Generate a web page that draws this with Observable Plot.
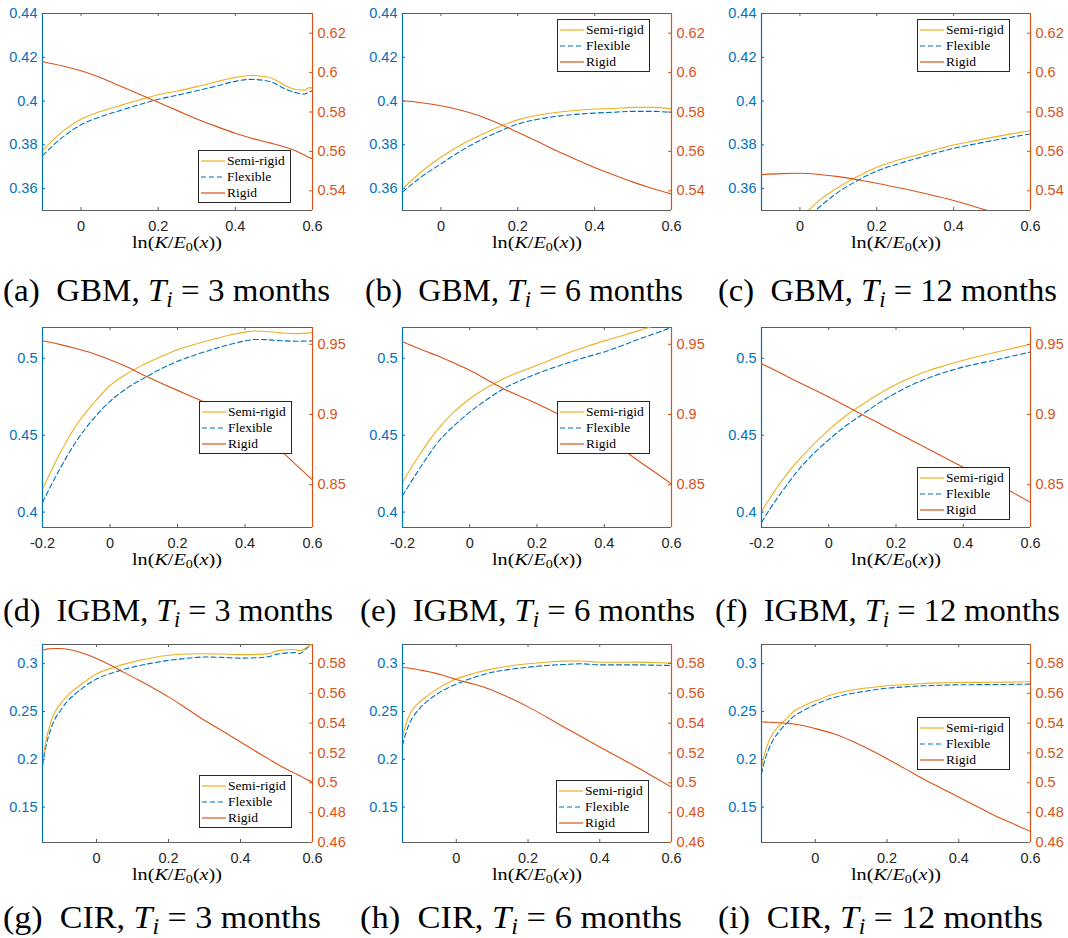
<!DOCTYPE html>
<html><head><meta charset="utf-8">
<script src="https://cdn.jsdelivr.net/npm/d3@7"></script>
<script src="https://cdn.jsdelivr.net/npm/@observablehq/plot@0.6"></script>
<style>
html,body{margin:0;padding:0;background:#fff;}
#root{position:relative;width:1068px;height:938px;overflow:hidden;background:#fff;}
.legend{position:absolute;width:93px;height:53px;box-sizing:border-box;border:1px solid #262626;background:#fff;}
.lrow{position:absolute;left:0;height:16px;width:100%;}
.lrow svg{position:absolute;left:2px;top:6px;}
.lrow span{position:absolute;left:28px;top:0;font:13.5px/16px "Liberation Serif","Times New Roman",serif;color:#000;white-space:nowrap;}
.cap{position:absolute;white-space:nowrap;font-family:"Liberation Serif","Times New Roman",serif;font-size:32px;line-height:32px;color:#000;transform-origin:0 50%;}
.xl{position:absolute;white-space:nowrap;font-family:"Liberation Serif","Times New Roman",serif;font-size:17px;line-height:12px;color:#000;transform-origin:0 50%;}
sub{font-size:70%;vertical-align:-0.25em;line-height:0;}
</style></head>
<body><div id="root"></div>
<script>
// ---------- data ----------
const xA = [-0.1,-0.05,0,0.05,0.1,0.15,0.2,0.25,0.3,0.35,0.4,0.44,0.48,0.5,0.53,0.56,0.58,0.59,0.6];
const semiA = [0.3774,0.3858,0.3918,0.3952,0.3979,0.4005,0.4029,0.4046,0.4066,0.4088,0.4108,0.4117,0.4111,0.4100,0.4070,0.4052,0.4050,0.4060,0.4060];
const flexA = [0.3751,0.3832,0.3892,0.3928,0.3956,0.3983,0.4008,0.4027,0.4047,0.4068,0.4090,0.4099,0.4093,0.4082,0.4055,0.4037,0.4032,0.4040,0.4047];
const rigidA = [0.6055,0.6035,0.6009,0.5975,0.5933,0.5891,0.5849,0.5807,0.5765,0.5727,0.5692,0.5668,0.5648,0.5638,0.5621,0.5600,0.5580,0.5570,0.5562];

const xB = [-0.1,-0.05,0,0.05,0.1,0.15,0.2,0.25,0.3,0.35,0.4,0.45,0.5,0.55,0.6];
const semiB = [0.3599,0.3678,0.3743,0.3798,0.3842,0.3882,0.3914,0.3935,0.3948,0.3957,0.3964,0.3966,0.3971,0.3971,0.3964];
const flexB = [0.3584,0.3655,0.3713,0.3770,0.3819,0.3860,0.3895,0.3916,0.3930,0.3939,0.3945,0.3949,0.3953,0.3953,0.3948];
const rigidB = [0.5857,0.5847,0.5832,0.5810,0.5781,0.5742,0.5697,0.5651,0.5604,0.5560,0.5518,0.5480,0.5444,0.5412,0.5384];

const xC = [-0.1,-0.05,0,0.05,0.1,0.15,0.2,0.25,0.3,0.35,0.4,0.45,0.5,0.55,0.6];
const semiC = [0.333,0.340,0.3465,0.3545,0.3606,0.3655,0.3698,0.3727,0.3751,0.3776,0.3799,0.3817,0.3834,0.3850,0.3865];
const flexC = [0.330,0.337,0.3435,0.3515,0.3584,0.3637,0.3680,0.3710,0.3736,0.3761,0.3784,0.3802,0.3819,0.3835,0.3850];
const rigidC = [0.5482,0.5487,0.5489,0.5483,0.5472,0.5456,0.5438,0.5418,0.5398,0.5375,0.5351,0.5323,0.5292,0.5262,0.5230];

const xD = [-0.2,-0.15,-0.1,-0.05,0,0.05,0.1,0.15,0.2,0.25,0.3,0.35,0.4,0.43,0.45,0.5,0.55,0.6];
const semiD = [0.415,0.4375,0.4565,0.4705,0.4823,0.4900,0.4959,0.5010,0.5056,0.5090,0.5120,0.5148,0.5170,0.5177,0.5176,0.5167,0.5160,0.5167];
const flexD = [0.4063,0.4275,0.4460,0.4605,0.4720,0.4805,0.4870,0.4930,0.4980,0.5020,0.5055,0.5087,0.5113,0.5122,0.5122,0.5115,0.5111,0.5113];
const rigidD = [0.9525,0.9500,0.9470,0.9435,0.9391,0.9340,0.9279,0.9225,0.9172,0.9120,0.9065,0.9000,0.8934,0.8881,0.8845,0.8755,0.8645,0.8534];

const xE = [-0.2,-0.175,-0.15,-0.125,-0.1,-0.05,0,0.05,0.1,0.15,0.2,0.25,0.3,0.35,0.4,0.45,0.5,0.55,0.6];
const semiE = [0.4193,0.4285,0.4370,0.4452,0.4525,0.4645,0.4737,0.4808,0.4867,0.4913,0.4954,0.4998,0.5041,0.5078,0.5113,0.5145,0.5178,0.5212,0.5245];
const flexE = [0.4106,0.4195,0.4280,0.4362,0.4440,0.4555,0.4650,0.4730,0.4802,0.4855,0.4900,0.4940,0.4976,0.5010,0.5041,0.5080,0.5122,0.5160,0.5200];
const rigidE = [0.9518,0.9493,0.9468,0.9445,0.9422,0.9370,0.9315,0.9250,0.9184,0.9130,0.9077,0.9018,0.8958,0.8899,0.8839,0.8760,0.8672,0.8590,0.8505];

const xF = [-0.2,-0.175,-0.15,-0.125,-0.1,-0.05,0,0.05,0.1,0.15,0.2,0.25,0.3,0.35,0.4,0.45,0.5,0.55,0.6];
const semiF = [0.4004,0.4090,0.4172,0.4245,0.4313,0.4430,0.4535,0.4625,0.4700,0.4770,0.4830,0.4880,0.4922,0.4955,0.4987,0.5015,0.5041,0.5066,0.5091];
const flexF = [0.3933,0.4020,0.4100,0.4175,0.4248,0.4370,0.4470,0.4560,0.4635,0.4710,0.4775,0.4830,0.4875,0.4912,0.4943,0.4968,0.4991,0.5016,0.5041];
const rigidF = [0.9363,0.9333,0.9303,0.9273,0.9243,0.9184,0.9124,0.9062,0.8999,0.8937,0.8874,0.8812,0.8749,0.8687,0.8624,0.8565,0.8505,0.8440,0.8374];

const xG = [-0.15,-0.145,-0.14,-0.13,-0.12,-0.1,-0.08,-0.06,-0.04,-0.02,0,0.05,0.1,0.15,0.2,0.25,0.3,0.35,0.4,0.45,0.48,0.5,0.55,0.565,0.58,0.6];
const semiG = [0.1971,0.2090,0.2200,0.2350,0.2460,0.2580,0.2668,0.2735,0.2790,0.2845,0.2892,0.2963,0.3016,0.3057,0.3087,0.3100,0.3104,0.3100,0.3094,0.3097,0.3105,0.3133,0.3147,0.3135,0.3160,0.3210];
const flexG = [0.1936,0.2040,0.2140,0.2280,0.2385,0.2510,0.2610,0.2680,0.2740,0.2795,0.2839,0.2910,0.2963,0.3003,0.3034,0.3055,0.3069,0.3065,0.3058,0.3062,0.3075,0.3097,0.3115,0.3104,0.3150,0.3204];
const rigidG = [0.5889,0.5892,0.5895,0.5898,0.5900,0.5900,0.5895,0.5885,0.5870,0.5853,0.5833,0.5775,0.5710,0.5645,0.5576,0.5498,0.5419,0.5347,0.5274,0.5200,0.5157,0.5128,0.5065,0.5047,0.5028,0.5005];

const xH = [-0.15,-0.14,-0.13,-0.12,-0.1,-0.08,-0.06,-0.04,-0.02,0,0.05,0.1,0.15,0.2,0.25,0.3,0.35,0.4,0.45,0.5,0.55,0.6];
const semiH = [0.2237,0.2370,0.2470,0.2530,0.2607,0.2665,0.2718,0.2765,0.2805,0.2839,0.2899,0.2945,0.2975,0.2998,0.3015,0.3026,0.3027,0.3014,0.3015,0.3016,0.3012,0.3005];
const flexH = [0.2148,0.2280,0.2380,0.2445,0.2540,0.2610,0.2665,0.2715,0.2752,0.2786,0.2857,0.2910,0.2940,0.2963,0.2980,0.2991,0.2998,0.2987,0.2987,0.2987,0.2984,0.2980];
const rigidH = [0.5773,0.5771,0.5768,0.5764,0.5755,0.5746,0.5735,0.5722,0.5708,0.5692,0.5660,0.5620,0.5568,0.5509,0.5443,0.5374,0.5307,0.5240,0.5175,0.5110,0.5040,0.4971];

const xI = [-0.15,-0.14,-0.13,-0.12,-0.1,-0.08,-0.06,-0.04,-0.02,0,0.05,0.1,0.15,0.2,0.25,0.3,0.35,0.4,0.45,0.5,0.55,0.6];
const semiI = [0.1918,0.2075,0.2185,0.2260,0.2355,0.2425,0.2502,0.2545,0.2580,0.2609,0.2679,0.2722,0.2748,0.2768,0.2782,0.2793,0.2799,0.2803,0.2804,0.2805,0.2807,0.2810];
const flexI = [0.1847,0.2000,0.2105,0.2185,0.2295,0.2375,0.2449,0.2495,0.2537,0.2573,0.2644,0.2687,0.2718,0.2743,0.2757,0.2768,0.2774,0.2779,0.2780,0.2781,0.2783,0.2786];
const rigidI = [0.5408,0.5407,0.5406,0.5405,0.5403,0.5399,0.5394,0.5386,0.5376,0.5363,0.5330,0.5282,0.5225,0.5162,0.5095,0.5027,0.4965,0.4904,0.4843,0.4781,0.4727,0.4674];

// axes per row (domains and tick labels)
const xDomainGBM = [-0.1, 0.6], xTicksGBM = [0, 0.2, 0.4, 0.6];
const leftDomainGBM = [0.35, 0.44], leftTicksGBM = [0.36, 0.38, 0.40, 0.42, 0.44];
const rightDomainGBM = [0.53, 0.63], rightTicksGBM = [0.54, 0.56, 0.58, 0.60, 0.62];

const xDomainIGBM = [-0.2, 0.6], xTicksIGBM = [-0.2, 0, 0.2, 0.4, 0.6];
const leftDomainIGBM = [0.39, 0.52], leftTicksIGBM = [0.40, 0.45, 0.50];
const rightDomainIGBM = [0.8195, 0.962], rightTicksIGBM = [0.85, 0.90, 0.95];

const xDomainCIR = [-0.15, 0.6], xTicksCIR = [0, 0.2, 0.4, 0.6];
const leftDomainCIR = [0.113, 0.32], leftTicksCIR = [0.15, 0.20, 0.25, 0.30];
const rightDomainCIR = [0.46, 0.5927], rightTicksCIR = [0.46, 0.48, 0.50, 0.52, 0.54, 0.56, 0.58];

const seriesNames = ["Semi-rigid", "Flexible", "Rigid"];
const letters = ["a","b","c","d","e","f","g","h","i"];
const models = ["GBM","GBM","GBM","IGBM","IGBM","IGBM","CIR","CIR","CIR"];
const months = ["3","6","12","3","6","12","3","6","12"];

// ---------- layout ----------
const blue = "#0072BD", orange = "#D95319", yellow = "#EDB120", frameGray = "#5e5e5e";
const cols = [{L:42,R:312},{L:402,R:671},{L:761,R:1030}];
const rows = [{T:13,B:210,cap:290},{T:327,B:527,cap:610},{T:644,B:842,cap:917}];
const rowAxes = [
  {xd:xDomainGBM, xt:xTicksGBM, yl:leftDomainGBM, ylt:leftTicksGBM, yr:rightDomainGBM, yrt:rightTicksGBM},
  {xd:xDomainIGBM, xt:xTicksIGBM, yl:leftDomainIGBM, ylt:leftTicksIGBM, yr:rightDomainIGBM, yrt:rightTicksIGBM},
  {xd:xDomainCIR, xt:xTicksCIR, yl:leftDomainCIR, ylt:leftTicksCIR, yr:rightDomainCIR, yrt:rightTicksCIR}
];
const panelSeries = [
  [xA,semiA,flexA,rigidA],[xB,semiB,flexB,rigidB],[xC,semiC,flexC,rigidC],
  [xD,semiD,flexD,rigidD],[xE,semiE,flexE,rigidE],[xF,semiF,flexF,rigidF],
  [xG,semiG,flexG,rigidG],[xH,semiH,flexH,rigidH],[xI,semiI,flexI,rigidI]
];
const legendPos = [[198,150],[557,19],[917,19],[199,401],[557,401],[917,467],[199,775],[556,780],[917,717]];
const capBox = [[3,327],[365,318],[718,339],[3,330],[360,335],[715,345],[3,318],[360,322],[718,325]];

const root = document.getElementById("root");
const fmt = d => String(+d.toFixed(3));

function fitWidth(el, target){
  const w = el.getBoundingClientRect().width;
  if (w > 0) el.style.transform = `scaleX(${target / w})`;
}

for (let k = 0; k < 9; k++){
  const r = Math.floor(k / 3), c = k % 3;
  const ax = rowAxes[r], cl = cols[c], rw = rows[r];
  const [xs, semi, flex, rigid] = panelSeries[k];
  const data = xs.map((x, i) => ({x, semi: semi[i], flex: flex[i], rigid: rigid[i]}));
  const ml = 50, mr = 50, mt = 8, mb = 50;
  const iw = cl.R - cl.L, ih = rw.B - rw.T;
  const common = {
    width: iw + ml + mr, height: ih + mt + mb,
    marginLeft: ml, marginRight: mr, marginTop: mt, marginBottom: mb,
    style: {background: "transparent", fontFamily: "'Liberation Sans', Arial, Helvetica, sans-serif", fontSize: "14.5px", overflow: "visible"}
  };
  const leftPlot = Plot.plot({
    ...common,
    x: {domain: ax.xd},
    y: {domain: ax.yl},
    marks: [
      Plot.ruleY([ax.yl[0], ax.yl[1]], {stroke: frameGray, strokeWidth: 1}),
      Plot.tickX(ax.xt, {x: d => d, stroke: frameGray, insetTop: ih - 3}),
      Plot.tickX(ax.xt, {x: d => d, stroke: frameGray, insetBottom: ih - 3}),
      Plot.tickY(ax.ylt, {y: d => d, stroke: blue, insetRight: iw - 3}),
      Plot.axisX(ax.xt, {anchor: "bottom", tickSize: 0, tickPadding: 10, tickFormat: fmt, color: "#262626", label: null}),
      Plot.axisY(ax.ylt, {anchor: "left", tickSize: 0, tickPadding: 5, tickFormat: fmt, color: blue, label: null}),
      Plot.line(data, {x: "x", y: "flex", stroke: blue, strokeWidth: 1.1, strokeDasharray: "5,3", curve: "monotone-x", clip: true}),
      Plot.line(data, {x: "x", y: "semi", stroke: yellow, strokeWidth: 1.1, curve: "monotone-x", clip: true}),
      Plot.ruleX([ax.xd[0]], {stroke: blue, strokeWidth: 1.2})
    ]
  });
  const rightPlot = Plot.plot({
    ...common,
    x: {domain: ax.xd, axis: null},
    y: {domain: ax.yr},
    marks: [
      Plot.tickY(ax.yrt, {y: d => d, stroke: orange, insetLeft: iw - 3}),
      Plot.axisY(ax.yrt, {anchor: "right", tickSize: 0, tickPadding: 5, tickFormat: fmt, color: orange, label: null}),
      Plot.line(data, {x: "x", y: "rigid", stroke: orange, strokeWidth: 1.1, curve: "monotone-x", clip: true}),
      Plot.ruleX([ax.xd[1]], {stroke: orange, strokeWidth: 1.2})
    ]
  });
  for (const p of [leftPlot, rightPlot]){
    p.style.position = "absolute";
    p.style.left = (cl.L - ml) + "px";
    p.style.top = (rw.T - mt) + "px";
    p.style.maxWidth = "none";
    root.appendChild(p);
  }

  // legend
  const lg = document.createElement("div");
  lg.className = "legend";
  lg.style.left = legendPos[k][0] + "px";
  lg.style.top = legendPos[k][1] + "px";
  const sw = [[yellow, null], [blue, "5,3"], [orange, null]];
  lg.innerHTML = seriesNames.map((name, i) =>
    `<div class="lrow" style="top:${2 + i * 16}px"><svg width="24" height="4"><line x1="0" y1="2" x2="24" y2="2" stroke="${sw[i][0]}" stroke-width="1.2" ${sw[i][1] ? `stroke-dasharray="${sw[i][1]}"` : ""}/></svg><span>${name}</span></div>`
  ).join("");
  root.appendChild(lg);

  // x label
  const xl = document.createElement("div");
  xl.className = "xl";
  xl.innerHTML = `ln(<i>K</i>/<i>E</i><sub>0</sub>(<i>x</i>))`;
  root.appendChild(xl);
  const xlTarget = 90;
  xl.style.left = ((cl.L + cl.R) / 2 - xlTarget / 2) + "px";
  xl.style.top = (rw.B + 27) + "px";
  fitWidth(xl, xlTarget);

  // caption
  const cap = document.createElement("div");
  cap.className = "cap";
  cap.innerHTML = `(${letters[k]})&nbsp;&nbsp;${models[k]}, <i>T<sub>i</sub></i> = ${months[k]} months`;
  root.appendChild(cap);
  cap.style.left = capBox[k][0] + "px";
  cap.style.top = (rw.cap - 16) + "px";
  fitWidth(cap, capBox[k][1]);
}
</script>
</body></html>
